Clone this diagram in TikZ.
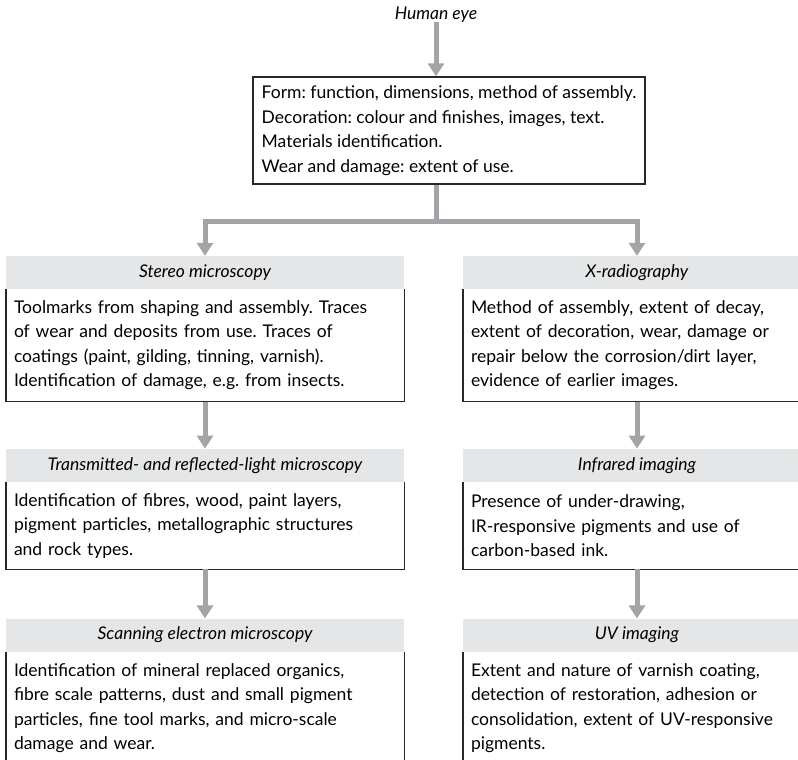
\documentclass[tikz,border=0pt]{standalone}
\usepackage{fontspec}
\setmainfont{Lato}
\usepackage{tikz}
\usetikzlibrary{arrows.meta, positioning}
\definecolor{arrowgray}{RGB}{163,164,168}
\definecolor{hdrgray}{RGB}{229,230,231}
\definecolor{linedark}{RGB}{40,40,40}
\frenchspacing
\hyphenpenalty=10000
\tikzset{
  hdr/.style={rectangle, fill=hdrgray, minimum height=33pt, inner sep=0pt,
    font=\fontsize{17.5}{24.5}\selectfont\itshape},
  bodytxt/.style={rectangle, align=left, inner xsep=8pt, inner ysep=0pt,
    font=\fontsize{17.5}{24.5}\selectfont},
  topbox/.style={rectangle, draw=linedark, line width=1.4pt, align=left,
    minimum width=392pt, inner xsep=4pt, minimum height=107pt,
    font=\fontsize{17.5}{24.5}\selectfont},
  flow/.style={-{Triangle[width=16pt,length=13pt]}, line width=5pt,
    color=arrowgray},
  frame/.style={draw=linedark, line width=1.4pt}
}

\begin{document}
\begin{tikzpicture}[x=1pt, y=-1pt, node distance=48pt]
  \useasboundingbox (0,0) rectangle (798,760);
  \clip (0,0) rectangle (798,760);
  \node[font=\fontsize{17.5}{24.5}\selectfont\itshape] (eye) at (436,15) {Human eye};
  \node[topbox] (obs) at (449,130.5) {Form: function, dimensions, method of assembly.\\
    Decoration: colour and finishes, images, text.\\
    Materials identification.\\
    Wear and damage: extent of use.};
  % left column
  \node[hdr, minimum width=398pt] (stereo) at (205,272.5) {Stereo microscopy};
  \node[bodytxt, text width=382pt, minimum height=112pt, below=0pt of stereo] (stereotxt)
    {Toolmarks from shaping and assembly. Traces\\
     of wear and deposits from use. Traces of\\
     coatings (paint, gilding, tinning, varnish).\\
     Identification of damage, e.g. from insects.};
  \node[hdr, minimum width=398pt, below=47pt of stereotxt] (optic)
    {Transmitted- and reflected-light microscopy};
  \node[bodytxt, text width=382pt, minimum height=87pt, below=0pt of optic] (optictxt)
    {Identification of fibres, wood, paint layers,\\
     pigment particles, metallographic structures\\
     and rock types.};
  \node[hdr, minimum width=398pt, below=49pt of optictxt] (sem)
    {Scanning electron microscopy};
  \node[bodytxt, text width=382pt, minimum height=112pt, below=0pt of sem] (semtxt)
    {Identification of mineral replaced organics,\\
     fibre scale patterns, dust and small pigment\\
     particles, fine tool marks, and micro-scale\\
     damage and wear.};
  % right column
  \node[hdr, minimum width=348pt] (xray) at (637,272.5) {X-radiography};
  \node[bodytxt, text width=332pt, minimum height=112pt, below=0pt of xray] (xraytxt)
    {Method of assembly, extent of decay,\\
     extent of decoration, wear, damage or\\
     repair below the corrosion/dirt layer,\\
     evidence of earlier images.};
  \node[hdr, minimum width=348pt, below=47pt of xraytxt] (ir) {Infrared imaging};
  \node[bodytxt, text width=332pt, minimum height=87pt, below=0pt of ir] (irtxt)
    {Presence of under-drawing,\\
     IR-responsive pigments and use of\\
     carbon-based ink.};
  \node[hdr, minimum width=348pt, below=49pt of irtxt] (uv) {UV imaging};
  \node[bodytxt, text width=332pt, minimum height=112pt, below=0pt of uv] (uvtxt)
    {Extent and nature of varnish coating,\\
     detection of restoration, adhesion or\\
     consolidation, extent of UV-responsive\\
     pigments.};
  \foreach \b in {stereotxt, optictxt, semtxt, xraytxt, irtxt, uvtxt}
    \draw[frame] (\b.north west) |- (\b.south east) -- (\b.north east);
  % arrows
  \coordinate (split) at (436,221);
  \draw[flow] ([yshift=4pt]eye.south) -- (obs.north -| eye.south);
  \draw[line width=5pt, color=arrowgray] (obs.south -| split) -- ([yshift=2.5pt]split);
  \draw[flow, miter limit=4] (split) -| (stereo.north);
  \draw[flow, miter limit=4] (split) -| (xray.north);
  \draw[flow] (stereotxt) -- (optic);
  \draw[flow] (optictxt) -- (sem);
  \draw[flow] (xraytxt) -- (ir);
  \draw[flow] (irtxt) -- (uv);
\end{tikzpicture}
\end{document}
